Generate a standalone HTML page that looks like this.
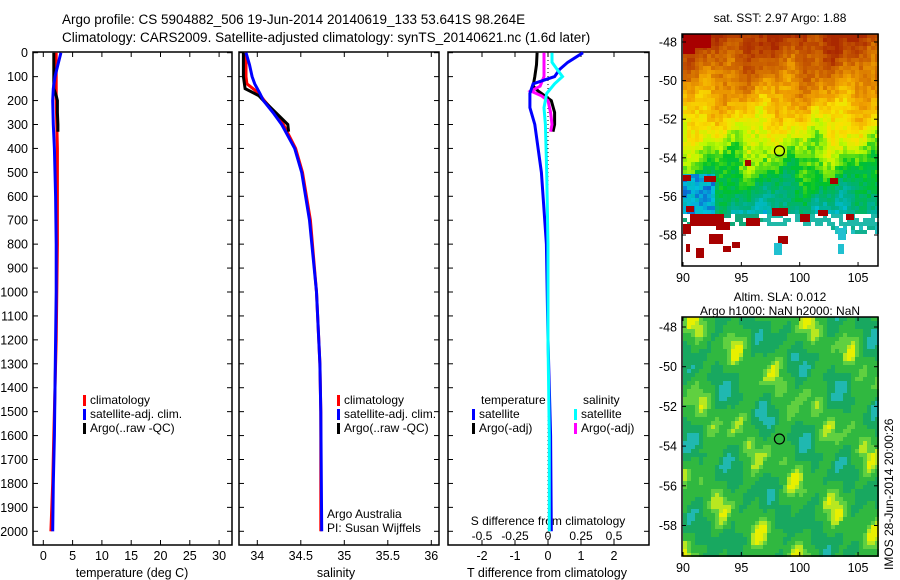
<!DOCTYPE html>
<html><head><meta charset="utf-8"><style>
body{margin:0;background:#fff;}
svg{font-family:"Liberation Sans",sans-serif;display:block}
text{fill:#000}
</style></head><body>
<svg id="fig" width="900" height="580" viewBox="0 0 900 580">
<text x="62" y="24" font-size="13.5">Argo profile: CS 5904882_506 19-Jun-2014 20140619_133 53.641S 98.264E</text>
<text x="62" y="42" font-size="13.5">Climatology: CARS2009. Satellite-adjusted climatology: synTS_20140621.nc (1.6d later)</text>
<g id="panels"></g>
<g id="maps"></g>
</svg>
<script>
// ---- data ----
const tDepth   = [0, 50, 100, 150, 200, 300, 400, 600, 800, 1000, 1200, 1400, 1600, 1800, 2000];
const tClim    = [2.2, 2.2, 2.2, 2.2, 2.2, 2.3, 2.4, 2.4, 2.4, 2.3, 2.2, 2.0, 1.8, 1.6, 1.3];
const tSat     = [3.0, 2.5, 2.0, 1.7, 1.6, 1.7, 1.9, 2.1, 2.2, 2.2, 2.1, 2.0, 1.9, 1.7, 1.6];
const argoDepth= [0, 50, 100, 150, 180, 200, 250, 300, 330];
const tArgo    = [1.8, 1.8, 1.8, 1.8, 2.2, 2.4, 2.4, 2.5, 2.5];
const sDepth   = [0, 50, 100, 130, 170, 200, 250, 300, 400, 500, 700, 1000, 1300, 1500, 2000];
const sClim    = [33.87, 33.87, 33.87, 33.88, 34.02, 34.08, 34.2, 34.3, 34.44, 34.52, 34.61, 34.68, 34.72, 34.73, 34.73];
const sSat     = [33.87, 33.91, 33.94, 33.97, 34.03, 34.07, 34.18, 34.28, 34.43, 34.51, 34.6, 34.68, 34.72, 34.73, 34.74];
const sArgo    = [33.84, 33.84, 33.84, 33.86, 34.02, 34.07, 34.21, 34.35, 34.36];
const dDepth   = [0, 40, 70, 100, 130, 170, 230, 300, 500, 800, 1200, 1600, 2000];
const dTsat    = [1.06, 0.6, 0.35, 0.2, -0.45, -0.55, -0.55, -0.4, -0.2, -0.05, 0.0, 0.08, 0.1];
const dSsat    = [0.03, 0.03, 0.07, 0.11, 0.05, -0.01, -0.03, -0.02, -0.01, 0.0, 0.0, 0.01, 0.01];
const dDepthA  = [0, 50, 100, 140, 160, 180, 200, 250, 300, 330];
const dTargo   = [-0.33, -0.35, -0.4, -0.45, -0.3, -0.1, 0.1, 0.2, 0.2, 0.15];
const dSargo   = [-0.03, -0.03, -0.03, -0.06, -0.13, -0.05, 0.0, 0.02, 0.03, 0.02];
const depthTicks = [0,100,200,300,400,500,600,700,800,900,1000,1100,1200,1300,1400,1500,1600,1700,1800,1900,2000];
const tTicks = [0,5,10,15,20,25,30];
const sTicks = [34,34.5,35,35.5,36];
const dTTicks = [-2,-1,0,1,2];
const dSTicks = [-0.5,-0.25,0,0.25,0.5];
const dSTickLabels = ["-0.5","-0.25","0","0.25","0.5"];
const latTicks = [-48,-50,-52,-54,-56,-58];
const lonTicks = [90,95,100,105];
const argoLon = 98.264, argoLat = -53.641;

const NS="http://www.w3.org/2000/svg";
function el(tag, attrs, parent, txt){const e=document.createElementNS(NS,tag);for(const k in attrs)e.setAttribute(k,attrs[k]);if(txt!==undefined)e.textContent=txt;parent.appendChild(e);return e;}
const P=document.getElementById('panels');
const yD = d => 52.7 + d*0.2393;
const TOP=52, BOT=545;
const FS=12.5;

function axesBox(x0,x1,name){
  const r=el('rect',{x:x0,y:TOP,width:x1-x0,height:BOT-TOP,fill:'none',stroke:'#000','stroke-width':1.5},P);
  
  
}
function xTicks(ticks,xf,labels,y,name){
  ticks.forEach((t,i)=>{const x=xf(t);
    el('line',{x1:x,x2:x,y1:BOT,y2:BOT-5,stroke:'#000'},P);
    el('line',{x1:x,x2:x,y1:TOP,y2:TOP+5,stroke:'#000'},P);
    const tx=el('text',{x:x,y:y,'font-size':FS,'text-anchor':'middle'},P,labels?labels[i]:String(t));
    
    
  });
}
function yTicks(x0,x1,labels){
  depthTicks.forEach(d=>{const y=yD(d);
    el('line',{x1:x0,x2:x0+5,y1:y,y2:y,stroke:'#000'},P);
    el('line',{x1:x1,x2:x1-5,y1:y,y2:y,stroke:'#000'},P);
    if(labels){const t=el('text',{x:28,y:y+4.5,'font-size':FS,'text-anchor':'end'},P,String(d));
      
      }
  });
}
function line(xs,ds,xf,color,name,w){
  const pts=xs.map((v,i)=>xf(v).toFixed(1)+','+yD(ds[i]).toFixed(1)).join(' ');
  const p=el('polyline',{points:pts,fill:'none',stroke:color,'stroke-width':w||3,'stroke-linejoin':'miter'},P);
  
  
}
function legend(x,y,items){
  items.forEach((it,i)=>{
    el('rect',{x:x,y:y+i*14-9,width:3,height:11,fill:it[1]},P);
    const t=el('text',{x:x+7,y:y+i*14,'font-size':12},P,it[0]);
    
    
  });
}
// Panel 1 temperature
const xT = v => 43.3 + v*5.86;
axesBox(33,232,'temperature-axes'); yTicks(33,232,true);
xTicks(tTicks,xT,null,560,'temperature-tick-label');
line(tClim,tDepth,xT,'#f00','temp-climatology');
line(tArgo,argoDepth,xT,'#000','temp-argo');
line(tSat,tDepth,xT,'#00f','temp-satellite');
el('text',{x:132,y:577,'font-size':FS,'text-anchor':'middle',},P,'temperature (deg C)');
legend(83,404,[['climatology','#f00'],['satellite-adj. clim.','#00f'],['Argo(..raw -QC)','#000']]);
// Panel 2 salinity
const xS = v => 257.3 + (v-34)*87;
axesBox(239,439,'salinity-axes'); yTicks(239,439,false);
xTicks(sTicks,xS,null,560,'salinity-tick-label');
line(sClim,sDepth,xS,'#f00','sal-climatology');
line(sArgo,argoDepth,xS,'#000','sal-argo');
line(sSat,sDepth,xS,'#00f','sal-satellite');
el('text',{x:336,y:577,'font-size':FS,'text-anchor':'middle',},P,'salinity');
legend(337,404,[['climatology','#f00'],['satellite-adj. clim.','#00f'],['Argo(..raw -QC)','#000']]);
el('text',{x:327,y:518,'font-size':12,},P,'Argo Australia');
el('text',{x:327,y:532,'font-size':12,},P,'PI: Susan Wijffels');
// Panel 3 differences
const xDT = v => 548 + v*33;
const xDS = v => 548 + v*132;
axesBox(448,649,'difference-axes'); yTicks(448,649,false);
dTTicks.forEach(t=>{const x=xDT(t);el('line',{x1:x,x2:x,y1:BOT,y2:BOT-5,stroke:'#000'},P);el('line',{x1:x,x2:x,y1:TOP,y2:TOP+5,stroke:'#000'},P);
  const tx=el('text',{x:x,y:560,'font-size':FS,'text-anchor':'middle'},P,String(t));
  
  });
dSTicks.forEach((t,i)=>{const tx=el('text',{x:xDS(t),y:540,'font-size':12,'text-anchor':'middle'},P,dSTickLabels[i]);
  
  });
el('text',{x:548,y:525,'font-size':12,'text-anchor':'middle',},P,'S difference from climatology');
el('text',{x:547,y:577,'font-size':FS,'text-anchor':'middle',},P,'T difference from climatology');
el('line',{x1:xDT(0),x2:xDT(0),y1:TOP,y2:BOT,stroke:'#000','stroke-dasharray':'1,3'},P);
line(dTargo,dDepthA,xDT,'#000','tdiff-argo');
line(dSargo,dDepthA,xDS,'#f0f','sdiff-argo');
line(dTsat,dDepth,xDT,'#00f','tdiff-satellite');
line(dSsat,dDepth,xDS,'#0ff','sdiff-satellite');
el('text',{x:481,y:404,'font-size':12,},P,'temperature');
el('text',{x:583,y:404,'font-size':12,},P,'salinity');
legend(472,418,[['satellite','#00f'],['Argo(-adj)','#000']]);
legend(574,418,[['satellite','#0ff'],['Argo(-adj)','#f0f']]);

// ---- maps ----
const M=document.getElementById('maps');
function hash(i,j){let h=(i*374761393+j*668265263)|0;h=(h^(h>>>13))*1274126177|0;return ((h^(h>>>16))>>>0)/4294967296;}
function sstColor(v){
  const stops=[[0,[20,40,200]],[0.12,[0,190,220]],[0.25,[0,175,130]],[0.38,[0,195,40]],[0.5,[190,250,0]],[0.6,[250,225,0]],[0.72,[240,160,0]],[0.85,[205,100,0]],[1,[170,40,0]]];
  for(let k=1;k<stops.length;k++){if(v<=stops[k][0]){const a=stops[k-1],b=stops[k],f=(v-a[0])/(b[0]-a[0]);return 'rgb('+a[1].map((c,m)=>Math.round(c+(b[1][m]-c)*f)).join(',')+')';}}
  return 'rgb(170,40,0)';
}
function mapFrame(x0,y0,w,h,latTop,pxDeg,name){
  const lonX=l=>683+(l-90)*11.67, latY=l=>latTop+(-48-l)*pxDeg;
  const r=el('rect',{x:x0,y:y0,width:w,height:h,fill:'none',stroke:'#000','stroke-width':1.5},M);
  
  
  latTicks.forEach(l=>{const y=latY(l);el('line',{x1:x0,x2:x0+4,y1:y,y2:y,stroke:'#000'},M);el('line',{x1:x0+w,x2:x0+w-4,y1:y,y2:y,stroke:'#000'},M);
    const t=el('text',{x:x0-5,y:y+4.5,'font-size':FS,'text-anchor':'end'},M,String(l));
    
    });
  lonTicks.forEach(l=>{const x=lonX(l);el('line',{x1:x,x2:x,y1:y0+h,y2:y0+h-4,stroke:'#000'},M);el('line',{x1:x,x2:x,y1:y0,y2:y0+4,stroke:'#000'},M);
    const t=el('text',{x:x,y:y0+h+16,'font-size':FS,'text-anchor':'middle'},M,String(l));
    
    });
  const c=el('circle',{cx:lonX(argoLon),cy:latY(argoLat),r:5,fill:'none',stroke:'#000','stroke-width':1.2},M);
  
  
}
// SST map
const g1=el('g',{},M);
const cs=4;
for(let j=0;j<58;j++)for(let i=0;i<49;i++){
  const x=683+i*cs,y=34+j*cs, frac=j/58;
  let col=null;
  if(frac>0.76){
    const h=hash(i+7,j*3);
    if(frac<0.82 && h<0.6) col=(i<20? '#10a878':'#20b8a8');
    else if(i>36 && frac<0.86 && h<0.6) col=(hash(i,j)<0.5?'#20c0c0':'#10b090');
    else continue;
  } else {
    let v=0.97-frac*1.0+(hash(i,j)-0.5)*0.1+0.05*Math.sin(i*0.35+j*0.25)+0.03*Math.sin(i*0.9);
    if(frac>0.6 && i<8) v=0.05+hash(i,j)*0.12;
    col=sstColor(Math.max(0,Math.min(1,v)));
  }
  el('rect',{x:x,y:y,width:cs,height:cs,fill:col},g1);
}
[[683,34,28,14],[683,46,12,8],[683,175,8,6],[704,176,12,6],[690,214,34,12],[716,222,14,8],[746,218,14,8],[709,234,14,10],[732,242,8,6],[696,248,8,10],[723,246,8,6],[778,236,10,8],[800,214,10,8],[846,214,8,6],[686,206,8,6],[772,208,16,8],[818,210,10,6],[683,224,8,10],[686,244,4,8],[745,160,6,6],[830,178,8,6]].forEach(b=>el('rect',{x:b[0],y:b[1],width:b[2],height:b[3],fill:'#a80000'},g1));
[[774,243,8,12],[838,228,8,12],[838,244,6,10]].forEach(b=>el('rect',{x:b[0],y:b[1],width:b[2],height:b[3],fill:'#20c0d0'},g1));
mapFrame(682,34,196,232,42,19.3,'sst-map-axes');
el('text',{x:780,y:22,'font-size':12,'text-anchor':'middle',},M,'sat. SST: 2.97 Argo: 1.88');
// SLA map
const g2=el('g',{},M);
for(let j=0;j<60;j++)for(let i=0;i<49;i++){
  const x=683+i*cs,y=317+j*cs;
  const v=0.5+0.22*Math.sin(i*0.55+j*0.13)*Math.cos(j*0.21-i*0.1)+0.18*Math.sin(i*0.23-j*0.31+1.3)+0.08*Math.sin(i*1.1+j*0.7);
  let col;
  if(v>0.84)col='#e8f000';else if(v>0.76)col='#b8e820';else if(v>0.66)col='#60d040';else if(v>0.42)col='#30b840';else if(v>0.2)col='#18a860';else col='#20b8b0';
  el('rect',{x:x,y:y,width:cs,height:cs,fill:col},g2);
}
mapFrame(682,317,196,239,327,19.85,'sla-map-axes');
el('text',{x:780,y:301,'font-size':12,'text-anchor':'middle',},M,'Altim. SLA: 0.012');
el('text',{x:780,y:315,'font-size':12,'text-anchor':'middle',},M,'Argo h1000: NaN h2000: NaN');
el('text',{x:0,y:0,'font-size':12,transform:'translate(893,570) rotate(-90)',},M,'IMOS 28-Jun-2014 20:00:26');
</script>
</body></html>
